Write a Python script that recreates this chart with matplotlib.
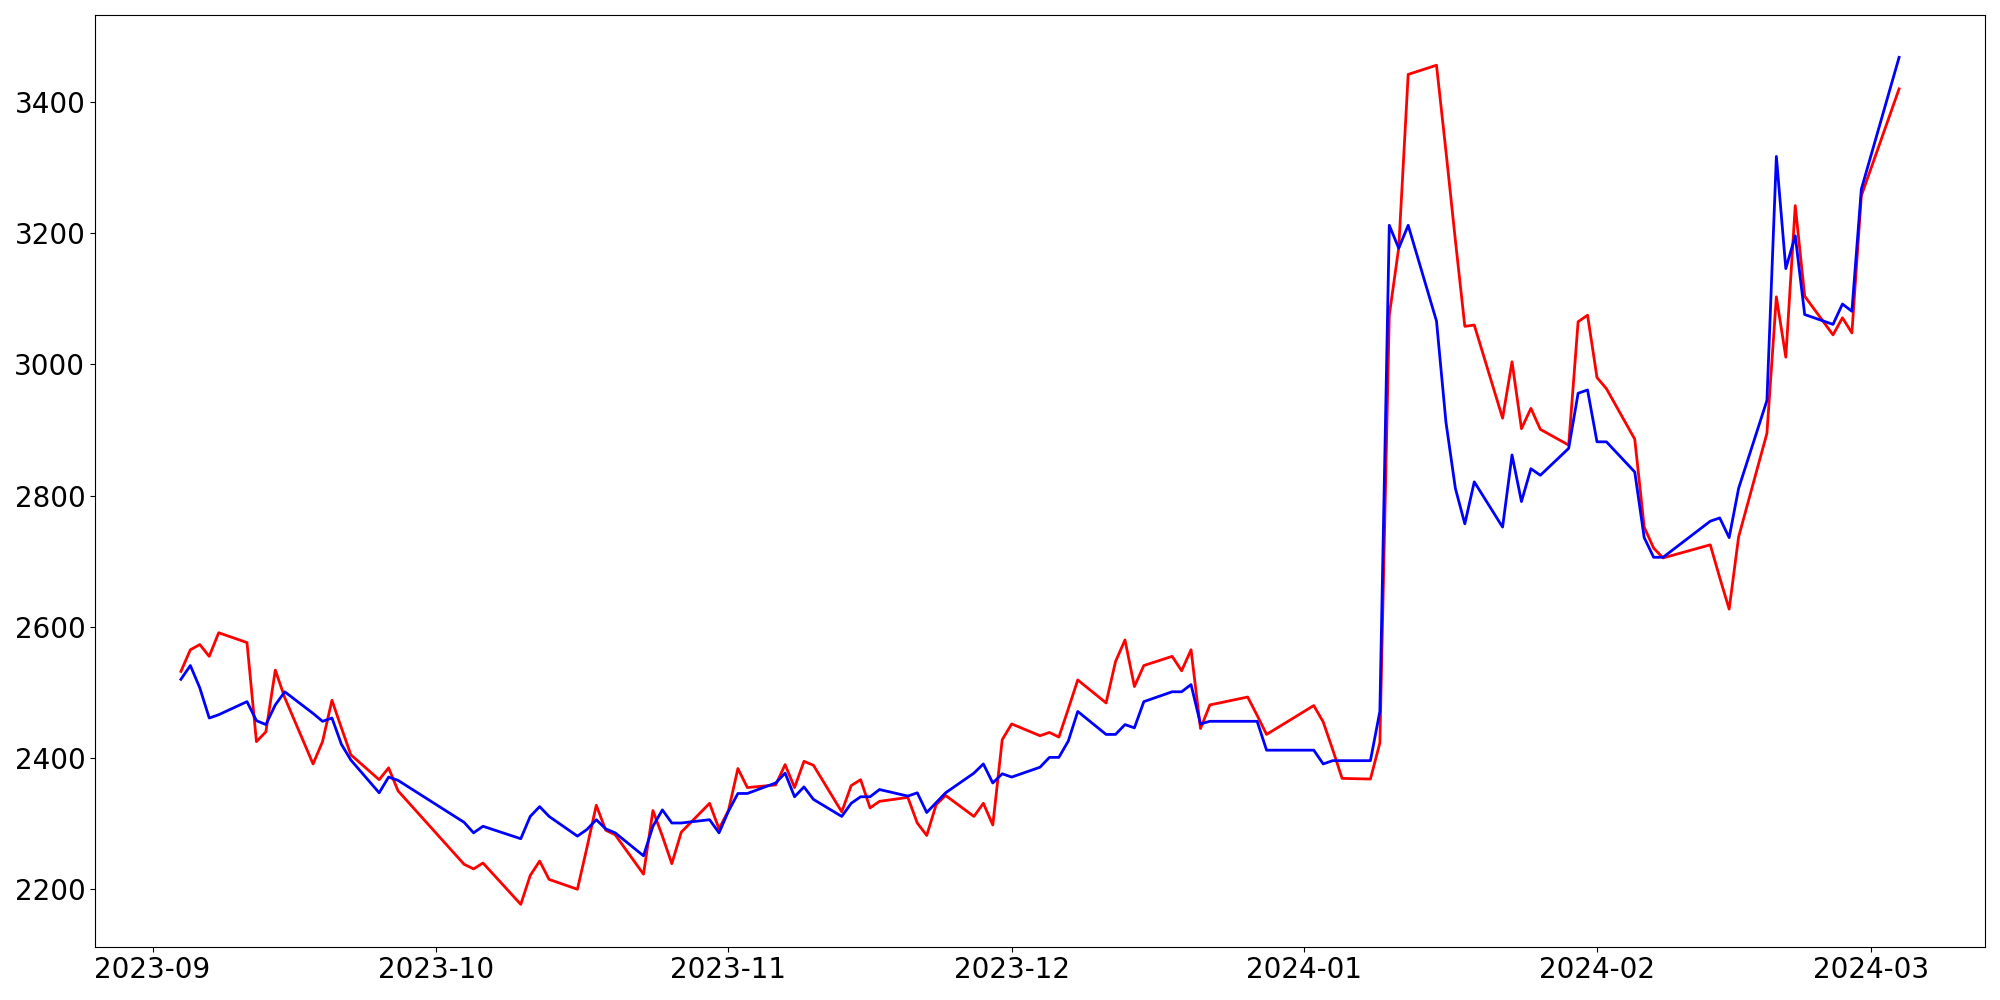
"""
Plot two daily price series, Sep 2023 - Mar 2024
"""

import pandas as pd
import matplotlib

matplotlib.use("Agg")
import matplotlib.pyplot as plt


dates = [
    "2023-09-04", "2023-09-05", "2023-09-06", "2023-09-07", "2023-09-08",
    "2023-09-11", "2023-09-12", "2023-09-13", "2023-09-14", "2023-09-15",
    "2023-09-18", "2023-09-19", "2023-09-20", "2023-09-21", "2023-09-22",
    "2023-09-25", "2023-09-26", "2023-09-27",
    "2023-10-04", "2023-10-05", "2023-10-06",
    "2023-10-10", "2023-10-11", "2023-10-12", "2023-10-13",
    "2023-10-16", "2023-10-17", "2023-10-18", "2023-10-19", "2023-10-20",
    "2023-10-23", "2023-10-24", "2023-10-25", "2023-10-26", "2023-10-27",
    "2023-10-30", "2023-10-31", "2023-11-01", "2023-11-02", "2023-11-03",
    "2023-11-06", "2023-11-07", "2023-11-08", "2023-11-09", "2023-11-10",
    "2023-11-13", "2023-11-14", "2023-11-15", "2023-11-16", "2023-11-17",
    "2023-11-20", "2023-11-21", "2023-11-22", "2023-11-23", "2023-11-24",
    "2023-11-27", "2023-11-28", "2023-11-29", "2023-11-30", "2023-12-01",
    "2023-12-04", "2023-12-05", "2023-12-06", "2023-12-07", "2023-12-08",
    "2023-12-11", "2023-12-12", "2023-12-13", "2023-12-14", "2023-12-15",
    "2023-12-18", "2023-12-19", "2023-12-20", "2023-12-21", "2023-12-22",
    "2023-12-26", "2023-12-27", "2023-12-28",
    "2024-01-02", "2024-01-03", "2024-01-04", "2024-01-05",
    "2024-01-08", "2024-01-09", "2024-01-10", "2024-01-11", "2024-01-12",
    "2024-01-15", "2024-01-16", "2024-01-17", "2024-01-18", "2024-01-19",
    "2024-01-22", "2024-01-23", "2024-01-24", "2024-01-25", "2024-01-26",
    "2024-01-29", "2024-01-30", "2024-01-31", "2024-02-01", "2024-02-02",
    "2024-02-05", "2024-02-06", "2024-02-07", "2024-02-08",
    "2024-02-13", "2024-02-14", "2024-02-15", "2024-02-16",
    "2024-02-19", "2024-02-20", "2024-02-21", "2024-02-22", "2024-02-23",
    "2024-02-26", "2024-02-27", "2024-02-28", "2024-02-29",
    "2024-03-04",
]

red_values = [
    2532, 2565, 2573, 2555, 2591,
    2576, 2425, 2440, 2534, 2492,
    2391, 2425, 2488, 2446, 2405,
    2367, 2385, 2350,
    2238, 2231, 2240,
    2177, 2221, 2243, 2215,
    2200, 2263, 2328, 2290, 2283,
    2223, 2320, 2281, 2239, 2287,
    2331, 2292, 2320, 2384, 2355,
    2359, 2390, 2355, 2395, 2389,
    2318, 2358, 2367, 2324, 2334,
    2340, 2301, 2282, 2329, 2343,
    2311, 2331, 2298, 2428, 2452,
    2434, 2439, 2432, 2475, 2519,
    2484, 2547, 2580, 2509, 2541,
    2555, 2533, 2565, 2445, 2481,
    2493, 2465, 2436,
    2480, 2455, 2413, 2369,
    2368, 2423, 3075, 3178, 3442,
    3456, 3325, 3189, 3058, 3060,
    2918, 3004, 2902, 2933, 2901,
    2877, 3065, 3075, 2980, 2963,
    2886, 2752, 2720, 2705,
    2725, 2675, 2627, 2737,
    2895, 3103, 3011, 3242, 3104,
    3045, 3071, 3048, 3257,
    3420,
]

blue_values = [
    2520, 2541, 2507, 2461, 2466,
    2486, 2457, 2451, 2481, 2501,
    2468, 2456, 2461, 2421, 2397,
    2347, 2371, 2366,
    2302, 2286, 2296,
    2277, 2311, 2326, 2311,
    2281, 2291, 2306, 2292, 2286,
    2251, 2296, 2321, 2301, 2301,
    2306, 2286, 2319, 2346, 2346,
    2362, 2377, 2341, 2356, 2337,
    2311, 2331, 2341, 2341, 2352,
    2342, 2347, 2317, 2332, 2347,
    2377, 2391, 2362, 2376, 2371,
    2386, 2401, 2401, 2426, 2471,
    2436, 2436, 2451, 2446, 2486,
    2501, 2501, 2512, 2452, 2456,
    2456, 2456, 2412,
    2412, 2391, 2396, 2396,
    2396, 2471, 3212, 3177, 3212,
    3066, 2912, 2811, 2757, 2821,
    2752, 2862, 2791, 2841, 2831,
    2872, 2956, 2961, 2882, 2882,
    2836, 2736, 2706, 2706,
    2761, 2766, 2736, 2811,
    2945, 3317, 3146, 3196, 3076,
    3061, 3092, 3081, 3267,
    3468,
]


def create_plot(out_path):
    x = pd.to_datetime(dates)

    fig = plt.figure(figsize=(20, 10), dpi=100)
    ax = fig.add_axes([0.0475, 0.0533, 0.945, 0.9317])

    ax.plot(x, red_values, color="red", linewidth=2)
    ax.plot(x, blue_values, color="blue", linewidth=2)

    ax.tick_params(axis="both", labelsize=20)

    fig.savefig(out_path, dpi=100)
    plt.close(fig)


def main():
    create_plot("out.png")


if __name__ == "__main__":
    main()
